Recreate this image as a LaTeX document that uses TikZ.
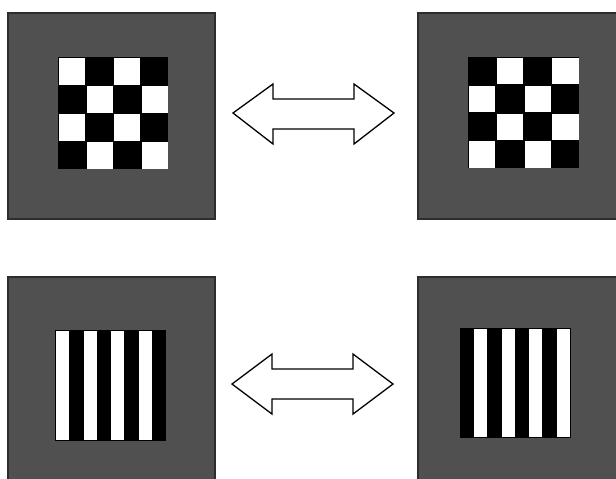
\documentclass[tikz,border=0pt]{standalone}
\begin{document}
\begin{tikzpicture}[x=1pt,y=-1pt,
  panel/.style={fill=panelgray,draw=panelborder,line width=1.2pt},
  dblarrow/.style={fill=white,draw=black,line width=1.3pt,line join=miter}]
\definecolor{panelgray}{RGB}{80,80,80}
\definecolor{panelborder}{RGB}{45,45,45}
\useasboundingbox (0,0) rectangle (616,479);
\clip (0,0) rectangle (616,479);
% panels
\draw[panel] (8,13) rectangle (215,219);
\draw[panel] (418,13) rectangle (620,219);
\draw[panel] (8,277) rectangle (215,485);
\draw[panel] (418,277) rectangle (620,485);
% checkerboard top-left (starts white)
\fill[black] (58,57) rectangle (168,169);
\foreach \i in {0,...,3}{
  \foreach \j in {0,...,3}{
    \pgfmathparse{int(mod(\i+\j,2))}
    \ifnum\pgfmathresult=0
      \fill[white] ({58+\i*27.5+1},{57+\j*28+1}) rectangle ({58+(\i+1)*27.5-0.5},{57+(\j+1)*28-0.5});
    \fi
  }}
% checkerboard top-right (starts black)
\fill[black] (468,57) rectangle (579,168);
\foreach \i in {0,...,3}{
  \foreach \j in {0,...,3}{
    \pgfmathparse{int(mod(\i+\j,2))}
    \ifnum\pgfmathresult=1
      \fill[white] ({468+\i*27.75+1},{57+\j*27.75+1}) rectangle ({468+(\i+1)*27.75-0.5},{57+(\j+1)*27.75-0.5});
    \fi
  }}
% stripes bottom-left (starts white)
\fill[black] (55,330) rectangle (166,441);
\foreach \i in {0,2,4,6}{
  \fill[white] ({55+\i*13.875+0.8},331) rectangle ({55+(\i+1)*13.875},440);
}
% stripes bottom-right (starts black)
\fill[black] (460,328) rectangle (571,438);
\foreach \i in {1,3,5,7}{
  \fill[white] ({460+\i*13.875},329) rectangle ({460+(\i+1)*13.875-0.8},437);
}
% double arrows
\draw[dblarrow] (233,113) -- (273,84) -- (273,99) -- (354,99) -- (354,84) -- (394,113)
  -- (354,144) -- (354,129) -- (273,129) -- (273,144) -- cycle;
\draw[dblarrow] (232,384) -- (272,354) -- (272,369) -- (353,369) -- (353,354) -- (393,384)
  -- (353,414) -- (353,399) -- (272,399) -- (272,414) -- cycle;
\end{tikzpicture}
\end{document}
